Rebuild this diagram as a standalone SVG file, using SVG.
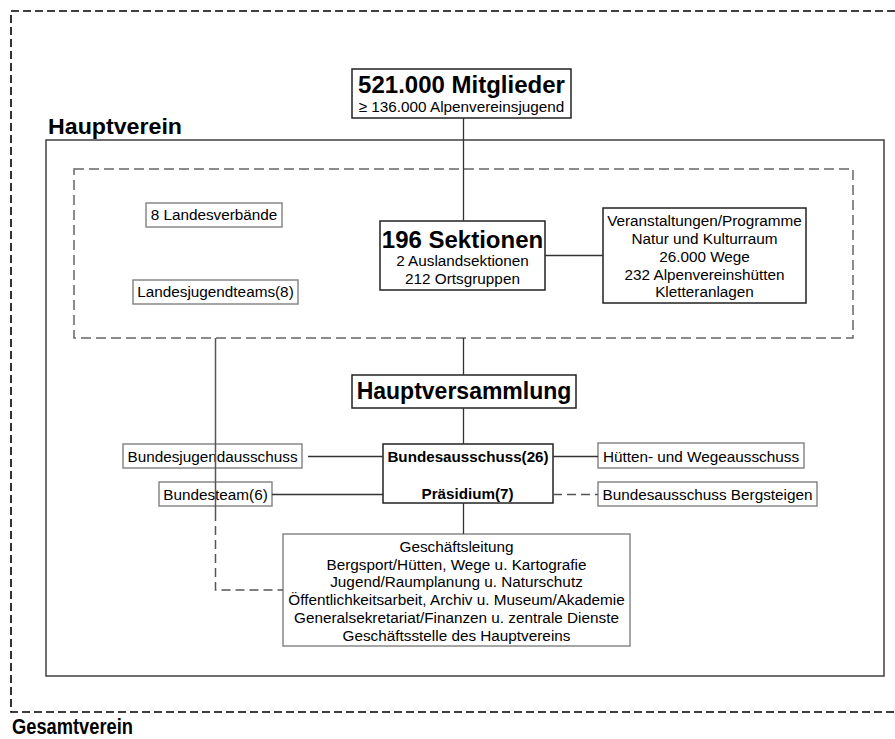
<svg xmlns="http://www.w3.org/2000/svg" width="895" height="739" viewBox="0 0 895 739">
<style>
text{font-family:"Liberation Sans",Arial,sans-serif;fill:#000;text-anchor:middle}
.r{font-size:15.3px}
.b{font-size:15.2px;font-weight:bold}
.t{font-size:24px;font-weight:bold}
.lbl{font-size:22px;font-weight:bold;text-anchor:start}
.main{fill:#fff;stroke:#222;stroke-width:1.5}
.sub{fill:#fff;stroke:#888;stroke-width:1.5}
.ln{fill:none;stroke:#333;stroke-width:1.3}
.gl{fill:none;stroke:#555;stroke-width:1.5}
.dl{fill:none;stroke:#555;stroke-width:1.5;stroke-dasharray:9 5}
</style>
<rect width="895" height="739" fill="#fff"/>
<g id="gesamtverein">
<path d="M895,11 H11 V712 H895" fill="none" stroke="#000" stroke-width="1.6" stroke-dasharray="8 4"/>
<text class="lbl" x="12" y="734" textLength="121" lengthAdjust="spacingAndGlyphs">Gesamtverein</text>
</g>
<g id="hauptverein">
<text class="lbl" x="48" y="134" textLength="134" lengthAdjust="spacingAndGlyphs">Hauptverein</text>
<rect x="46" y="140" width="838" height="536" fill="none" stroke="#333" stroke-width="1.4"/>
</g>
<g id="sektionen-bereich">
<rect x="74" y="169" width="779" height="169" fill="none" stroke="#666" stroke-width="1.5" stroke-dasharray="10 5"/>
</g>
<g id="mitglieder">
<rect class="main" x="352" y="69" width="219" height="49"/>
<text class="t" x="461.5" y="93">521.000 Mitglieder</text>
<text class="r" x="461.5" y="111.5">≥ 136.000 Alpenvereinsjugend</text>
</g>
<g id="landesverbaende">
<rect class="sub" x="146" y="203" width="136" height="24"/>
<text class="r" x="214" y="220">8 Landesverbände</text>
</g>
<g id="landesjugendteams">
<rect class="sub" x="133" y="280" width="165" height="24"/>
<text class="r" x="215.5" y="297">Landesjugendteams(8)</text>
</g>
<g id="sektionen">
<rect class="main" x="380" y="221" width="165" height="69"/>
<text class="t" x="462.5" y="248">196 Sektionen</text>
<text class="r" x="462.5" y="265.5">2 Auslandsektionen</text>
<text class="r" x="462.5" y="283.5">212 Ortsgruppen</text>
</g>
<g id="veranstaltungen">
<rect class="main" x="603" y="208" width="203" height="95"/>
<text class="r" x="704.5" y="225.5">Veranstaltungen/Programme</text>
<text class="r" x="704.5" y="243.8">Natur und Kulturraum</text>
<text class="r" x="704.5" y="262">26.000 Wege</text>
<text class="r" x="704.5" y="280">232 Alpenvereinshütten</text>
<text class="r" x="704.5" y="297">Kletteranlagen</text>
</g>
<g id="hauptversammlung">
<rect class="main" x="352" y="375" width="224" height="33"/>
<text x="464" y="399" style="font-size:23px;font-weight:bold">Hauptversammlung</text>
</g>
<g id="bundesausschuss">
<rect class="main" x="383" y="444" width="170" height="59"/>
<text class="b" x="468" y="462">Bundesausschuss(26)</text>
<text class="b" x="467.5" y="498.5">Präsidium(7)</text>
</g>
<g id="bundesjugendausschuss">
<rect class="sub" x="123" y="444" width="179" height="24"/>
<text class="r" x="212.5" y="462">Bundesjugendausschuss</text>
</g>
<g id="bundesteam">
<rect class="sub" x="159" y="482" width="113" height="24"/>
<text class="r" x="215.5" y="500">Bundesteam(6)</text>
</g>
<g id="huettenausschuss">
<rect class="sub" x="598" y="443" width="206" height="25"/>
<text class="r" x="701" y="462">Hütten- und Wegeausschuss</text>
</g>
<g id="bergsteigen">
<rect class="sub" x="598" y="482" width="219" height="24"/>
<text class="r" x="707.5" y="500">Bundesausschuss Bergsteigen</text>
</g>
<g id="geschaeftsleitung">
<rect class="sub" x="283" y="534" width="347" height="112"/>
<text class="r" x="456.5" y="552.2">Geschäftsleitung</text>
<text class="r" x="456.5" y="569.8">Bergsport/Hütten, Wege u. Kartografie</text>
<text class="r" x="456.5" y="587.2">Jugend/Raumplanung u. Naturschutz</text>
<text class="r" x="456.5" y="604.8">Öffentlichkeitsarbeit, Archiv u. Museum/Akademie</text>
<text class="r" x="456.5" y="622.8">Generalsekretariat/Finanzen u. zentrale Dienste</text>
<text class="r" x="456.5" y="640.5">Geschäftsstelle des Hauptvereins</text>
</g>
<g id="connectors">
<path class="ln" d="M463.5,118 V221"/>
<path class="ln" d="M545,255.5 H603"/>
<path class="ln" d="M463.5,338 V375"/>
<path class="ln" d="M463.5,408 V444"/>
<path class="ln" d="M463.5,503 V534"/>
<path class="ln" d="M308,456.5 H383"/>
<path class="ln" d="M272,494.5 H383"/>
<path class="ln" d="M553,456.5 H598"/>
<path class="dl" d="M553,494.5 H598"/>
<path class="gl" d="M215.5,338 V512"/>
<path class="dl" d="M215.5,512 V590 H283"/>
</g>
</svg>
